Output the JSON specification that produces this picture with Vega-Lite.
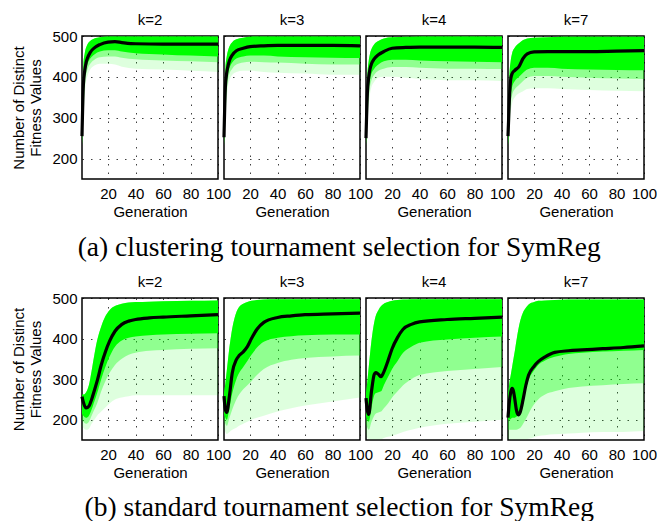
{
  "$schema": "https://vega.github.io/schema/vega-lite/v6.json",
  "padding": {"left": 11, "top": 13, "right": 0, "bottom": 0},
  "background": "white",
  "config": {
    "font": "Liberation Sans",
    "view": {"stroke": "#000", "strokeWidth": 1.5},
    "axis": {"labelFont": "Liberation Sans", "labelFontSize": 15, "labelColor": "#000", "labelOverlap": false, "labelFlush": false, "titleFont": "Liberation Sans", "titleFontSize": 15, "titleFontWeight": "normal", "titleColor": "#000", "domain": false, "ticks": false, "grid": true, "gridColor": "#000", "gridDash": [1.5, 7], "gridOpacity": 0.75, "gridWidth": 1},
    "header": {"labelFont": "Liberation Sans", "labelFontSize": 15, "labelColor": "#000"},
    "title": {"font": "Liberation Serif", "fontSize": 27.5, "fontWeight": "normal", "color": "#000"}
  },
  "datasets": {
    "a": [
      {"k": "k=2", "g": 1, "hi": 262, "d": 235, "m": 232, "s": 230, "y": 255},
      {"k": "k=2", "g": 2, "hi": 430, "d": 340, "m": 310, "s": 290, "y": 380},
      {"k": "k=2", "g": 3, "hi": 458, "d": 395, "m": 375, "s": 355, "y": 415},
      {"k": "k=2", "g": 4, "hi": 472, "d": 420, "m": 405, "s": 390, "y": 435},
      {"k": "k=2", "g": 5, "hi": 480, "d": 432, "m": 418, "s": 402, "y": 446},
      {"k": "k=2", "g": 7, "hi": 488, "d": 445, "m": 432, "s": 418, "y": 460},
      {"k": "k=2", "g": 10, "hi": 494, "d": 455, "m": 442, "s": 428, "y": 471},
      {"k": "k=2", "g": 14, "hi": 497, "d": 462, "m": 448, "s": 432, "y": 479},
      {"k": "k=2", "g": 20, "hi": 499, "d": 465, "m": 450, "s": 432, "y": 485},
      {"k": "k=2", "g": 25, "hi": 499, "d": 465, "m": 450, "s": 430, "y": 486},
      {"k": "k=2", "g": 30, "hi": 499, "d": 462, "m": 447, "s": 425, "y": 484},
      {"k": "k=2", "g": 40, "hi": 499, "d": 458, "m": 443, "s": 420, "y": 481},
      {"k": "k=2", "g": 60, "hi": 499, "d": 455, "m": 440, "s": 418, "y": 480},
      {"k": "k=2", "g": 80, "hi": 499, "d": 452, "m": 438, "s": 415, "y": 480},
      {"k": "k=2", "g": 100, "hi": 499, "d": 450, "m": 436, "s": 412, "y": 480},

      {"k": "k=3", "g": 1, "hi": 262, "d": 235, "m": 232, "s": 230, "y": 252},
      {"k": "k=3", "g": 2, "hi": 420, "d": 330, "m": 300, "s": 280, "y": 375},
      {"k": "k=3", "g": 3, "hi": 450, "d": 385, "m": 365, "s": 345, "y": 410},
      {"k": "k=3", "g": 4, "hi": 465, "d": 410, "m": 395, "s": 380, "y": 428},
      {"k": "k=3", "g": 5, "hi": 475, "d": 422, "m": 408, "s": 392, "y": 440},
      {"k": "k=3", "g": 7, "hi": 485, "d": 435, "m": 420, "s": 405, "y": 453},
      {"k": "k=3", "g": 10, "hi": 492, "d": 445, "m": 430, "s": 412, "y": 464},
      {"k": "k=3", "g": 15, "hi": 496, "d": 450, "m": 435, "s": 415, "y": 470},
      {"k": "k=3", "g": 20, "hi": 498, "d": 452, "m": 437, "s": 415, "y": 474},
      {"k": "k=3", "g": 30, "hi": 499, "d": 452, "m": 436, "s": 412, "y": 476},
      {"k": "k=3", "g": 40, "hi": 499, "d": 450, "m": 435, "s": 410, "y": 477},
      {"k": "k=3", "g": 60, "hi": 499, "d": 448, "m": 432, "s": 408, "y": 477},
      {"k": "k=3", "g": 80, "hi": 499, "d": 447, "m": 430, "s": 405, "y": 477},
      {"k": "k=3", "g": 100, "hi": 499, "d": 446, "m": 430, "s": 405, "y": 476},

      {"k": "k=4", "g": 1, "hi": 262, "d": 235, "m": 232, "s": 230, "y": 250},
      {"k": "k=4", "g": 2, "hi": 400, "d": 320, "m": 295, "s": 275, "y": 360},
      {"k": "k=4", "g": 3, "hi": 440, "d": 370, "m": 350, "s": 330, "y": 400},
      {"k": "k=4", "g": 4, "hi": 458, "d": 395, "m": 378, "s": 360, "y": 420},
      {"k": "k=4", "g": 5, "hi": 468, "d": 408, "m": 392, "s": 375, "y": 432},
      {"k": "k=4", "g": 7, "hi": 480, "d": 420, "m": 405, "s": 388, "y": 444},
      {"k": "k=4", "g": 10, "hi": 488, "d": 430, "m": 415, "s": 398, "y": 454},
      {"k": "k=4", "g": 14, "hi": 494, "d": 438, "m": 420, "s": 400, "y": 462},
      {"k": "k=4", "g": 20, "hi": 497, "d": 442, "m": 424, "s": 400, "y": 470},
      {"k": "k=4", "g": 30, "hi": 498, "d": 442, "m": 424, "s": 398, "y": 472},
      {"k": "k=4", "g": 40, "hi": 499, "d": 440, "m": 422, "s": 395, "y": 473},
      {"k": "k=4", "g": 60, "hi": 499, "d": 438, "m": 420, "s": 392, "y": 473},
      {"k": "k=4", "g": 80, "hi": 499, "d": 437, "m": 420, "s": 392, "y": 473},
      {"k": "k=4", "g": 100, "hi": 499, "d": 436, "m": 419, "s": 390, "y": 472},

      {"k": "k=7", "g": 1, "hi": 262, "d": 235, "m": 232, "s": 228, "y": 255},
      {"k": "k=7", "g": 2, "hi": 400, "d": 300, "m": 280, "s": 260, "y": 345},
      {"k": "k=7", "g": 3, "hi": 440, "d": 355, "m": 335, "s": 315, "y": 395},
      {"k": "k=7", "g": 4, "hi": 458, "d": 375, "m": 355, "s": 335, "y": 408},
      {"k": "k=7", "g": 6, "hi": 472, "d": 390, "m": 370, "s": 350, "y": 416},
      {"k": "k=7", "g": 9, "hi": 482, "d": 400, "m": 380, "s": 360, "y": 425},
      {"k": "k=7", "g": 12, "hi": 490, "d": 410, "m": 390, "s": 365, "y": 445},
      {"k": "k=7", "g": 15, "hi": 494, "d": 418, "m": 398, "s": 370, "y": 456},
      {"k": "k=7", "g": 20, "hi": 496, "d": 422, "m": 402, "s": 372, "y": 461},
      {"k": "k=7", "g": 30, "hi": 497, "d": 422, "m": 402, "s": 372, "y": 462},
      {"k": "k=7", "g": 40, "hi": 498, "d": 420, "m": 400, "s": 370, "y": 462},
      {"k": "k=7", "g": 60, "hi": 498, "d": 418, "m": 398, "s": 368, "y": 462},
      {"k": "k=7", "g": 80, "hi": 498, "d": 417, "m": 396, "s": 366, "y": 463},
      {"k": "k=7", "g": 100, "hi": 498, "d": 416, "m": 395, "s": 365, "y": 464}
    ],
    "b": [
      {"k": "k=2", "g": 1, "hi": 262, "d": 215, "m": 200, "s": 185, "y": 257},
      {"k": "k=2", "g": 2, "hi": 262, "d": 210, "m": 195, "s": 180, "y": 243},
      {"k": "k=2", "g": 4, "hi": 268, "d": 205, "m": 190, "s": 175, "y": 229},
      {"k": "k=2", "g": 6, "hi": 285, "d": 210, "m": 195, "s": 178, "y": 233},
      {"k": "k=2", "g": 8, "hi": 320, "d": 225, "m": 210, "s": 190, "y": 250},
      {"k": "k=2", "g": 10, "hi": 360, "d": 245, "m": 225, "s": 200, "y": 272},
      {"k": "k=2", "g": 12, "hi": 395, "d": 265, "m": 240, "s": 210, "y": 295},
      {"k": "k=2", "g": 15, "hi": 430, "d": 300, "m": 270, "s": 220, "y": 335},
      {"k": "k=2", "g": 18, "hi": 455, "d": 330, "m": 295, "s": 230, "y": 367},
      {"k": "k=2", "g": 21, "hi": 470, "d": 355, "m": 315, "s": 240, "y": 393},
      {"k": "k=2", "g": 25, "hi": 480, "d": 380, "m": 335, "s": 250, "y": 418},
      {"k": "k=2", "g": 30, "hi": 486, "d": 395, "m": 350, "s": 255, "y": 435},
      {"k": "k=2", "g": 35, "hi": 489, "d": 402, "m": 360, "s": 258, "y": 443},
      {"k": "k=2", "g": 40, "hi": 490, "d": 405, "m": 365, "s": 260, "y": 447},
      {"k": "k=2", "g": 50, "hi": 491, "d": 408, "m": 370, "s": 260, "y": 451},
      {"k": "k=2", "g": 60, "hi": 492, "d": 410, "m": 372, "s": 260, "y": 453},
      {"k": "k=2", "g": 80, "hi": 493, "d": 412, "m": 375, "s": 260, "y": 456},
      {"k": "k=2", "g": 100, "hi": 494, "d": 413, "m": 376, "s": 260, "y": 459},

      {"k": "k=3", "g": 1, "hi": 265, "d": 215, "m": 200, "s": 180, "y": 258},
      {"k": "k=3", "g": 2, "hi": 290, "d": 205, "m": 190, "s": 170, "y": 225},
      {"k": "k=3", "g": 3, "hi": 320, "d": 200, "m": 185, "s": 165, "y": 218},
      {"k": "k=3", "g": 5, "hi": 380, "d": 230, "m": 205, "s": 170, "y": 260},
      {"k": "k=3", "g": 7, "hi": 425, "d": 265, "m": 225, "s": 175, "y": 315},
      {"k": "k=3", "g": 10, "hi": 465, "d": 300, "m": 250, "s": 180, "y": 348},
      {"k": "k=3", "g": 12, "hi": 478, "d": 315, "m": 262, "s": 185, "y": 358},
      {"k": "k=3", "g": 15, "hi": 486, "d": 330, "m": 275, "s": 190, "y": 367},
      {"k": "k=3", "g": 18, "hi": 490, "d": 345, "m": 285, "s": 195, "y": 380},
      {"k": "k=3", "g": 21, "hi": 493, "d": 360, "m": 295, "s": 200, "y": 400},
      {"k": "k=3", "g": 25, "hi": 495, "d": 378, "m": 310, "s": 205, "y": 423},
      {"k": "k=3", "g": 30, "hi": 496, "d": 392, "m": 325, "s": 210, "y": 440},
      {"k": "k=3", "g": 40, "hi": 497, "d": 402, "m": 340, "s": 220, "y": 452},
      {"k": "k=3", "g": 50, "hi": 497, "d": 406, "m": 348, "s": 228, "y": 456},
      {"k": "k=3", "g": 60, "hi": 497, "d": 408, "m": 352, "s": 235, "y": 459},
      {"k": "k=3", "g": 80, "hi": 497, "d": 410, "m": 356, "s": 245, "y": 461},
      {"k": "k=3", "g": 100, "hi": 497, "d": 410, "m": 358, "s": 255, "y": 463},

      {"k": "k=4", "g": 1, "hi": 265, "d": 210, "m": 190, "s": 170, "y": 253},
      {"k": "k=4", "g": 2, "hi": 295, "d": 200, "m": 180, "s": 155, "y": 222},
      {"k": "k=4", "g": 3, "hi": 330, "d": 195, "m": 175, "s": 152, "y": 213},
      {"k": "k=4", "g": 5, "hi": 395, "d": 230, "m": 195, "s": 152, "y": 270},
      {"k": "k=4", "g": 7, "hi": 440, "d": 260, "m": 210, "s": 152, "y": 312},
      {"k": "k=4", "g": 8, "hi": 455, "d": 265, "m": 215, "s": 152, "y": 316},
      {"k": "k=4", "g": 10, "hi": 470, "d": 268, "m": 218, "s": 152, "y": 312},
      {"k": "k=4", "g": 12, "hi": 480, "d": 270, "m": 220, "s": 152, "y": 306},
      {"k": "k=4", "g": 14, "hi": 486, "d": 285, "m": 228, "s": 155, "y": 318},
      {"k": "k=4", "g": 17, "hi": 490, "d": 305, "m": 240, "s": 158, "y": 345},
      {"k": "k=4", "g": 20, "hi": 493, "d": 325, "m": 255, "s": 160, "y": 375},
      {"k": "k=4", "g": 24, "hi": 495, "d": 345, "m": 270, "s": 165, "y": 403},
      {"k": "k=4", "g": 28, "hi": 496, "d": 365, "m": 285, "s": 170, "y": 423},
      {"k": "k=4", "g": 34, "hi": 497, "d": 380, "m": 300, "s": 175, "y": 435},
      {"k": "k=4", "g": 40, "hi": 497, "d": 390, "m": 310, "s": 180, "y": 441},
      {"k": "k=4", "g": 60, "hi": 497, "d": 398, "m": 320, "s": 190, "y": 447},
      {"k": "k=4", "g": 80, "hi": 497, "d": 402, "m": 325, "s": 195, "y": 450},
      {"k": "k=4", "g": 100, "hi": 497, "d": 405, "m": 330, "s": 200, "y": 453},

      {"k": "k=7", "g": 1, "hi": 260, "d": 200, "m": 175, "s": 152, "y": 205},
      {"k": "k=7", "g": 2, "hi": 290, "d": 200, "m": 175, "s": 152, "y": 245},
      {"k": "k=7", "g": 3, "hi": 310, "d": 202, "m": 175, "s": 152, "y": 268},
      {"k": "k=7", "g": 4, "hi": 330, "d": 205, "m": 175, "s": 152, "y": 277},
      {"k": "k=7", "g": 5, "hi": 350, "d": 205, "m": 175, "s": 152, "y": 270},
      {"k": "k=7", "g": 6, "hi": 370, "d": 205, "m": 175, "s": 152, "y": 250},
      {"k": "k=7", "g": 7, "hi": 392, "d": 207, "m": 175, "s": 152, "y": 226},
      {"k": "k=7", "g": 8.5, "hi": 422, "d": 212, "m": 177, "s": 152, "y": 212},
      {"k": "k=7", "g": 10, "hi": 445, "d": 225, "m": 180, "s": 152, "y": 220},
      {"k": "k=7", "g": 12, "hi": 465, "d": 250, "m": 190, "s": 152, "y": 250},
      {"k": "k=7", "g": 14, "hi": 476, "d": 275, "m": 202, "s": 152, "y": 285},
      {"k": "k=7", "g": 16, "hi": 484, "d": 298, "m": 215, "s": 153, "y": 310},
      {"k": "k=7", "g": 20, "hi": 490, "d": 322, "m": 238, "s": 157, "y": 332},
      {"k": "k=7", "g": 23, "hi": 493, "d": 335, "m": 250, "s": 160, "y": 343},
      {"k": "k=7", "g": 28, "hi": 494, "d": 346, "m": 262, "s": 162, "y": 355},
      {"k": "k=7", "g": 35, "hi": 495, "d": 355, "m": 270, "s": 164, "y": 366},
      {"k": "k=7", "g": 45, "hi": 496, "d": 362, "m": 278, "s": 166, "y": 370},
      {"k": "k=7", "g": 55, "hi": 496, "d": 365, "m": 282, "s": 168, "y": 372},
      {"k": "k=7", "g": 70, "hi": 496, "d": 368, "m": 285, "s": 170, "y": 375},
      {"k": "k=7", "g": 85, "hi": 496, "d": 370, "m": 288, "s": 170, "y": 378},
      {"k": "k=7", "g": 100, "hi": 496, "d": 372, "m": 290, "s": 172, "y": 382}
    ]
  },
  "spacing": 13,
  "vconcat": [
    {
      "data": {"name": "a"},
      "title": {"text": "(a) clustering tournament selection for SymReg", "orient": "bottom", "anchor": "middle", "offset": 15, "dx": 5},
      "facet": {"column": {"field": "k", "type": "nominal", "title": null, "header": {"labelPadding": 8}}},
      "spacing": {"column": 6},
      "bounds": "flush",
      "spec": {
        "width": 136,
        "height": 143,
        "encoding": {
          "x": {"field": "g", "type": "quantitative", "scale": {"domain": [1, 100], "nice": false, "zero": false}, "axis": {"values": [20, 40, 60, 80, 100], "title": "Generation", "labelPadding": 7, "titlePadding": 3}}
        },
        "layer": [
          {"mark": {"type": "area", "color": "#00ff00", "opacity": 0.13, "interpolate": "monotone", "invalid": "filter"},
           "encoding": {"y": {"field": "s", "type": "quantitative", "scale": {"domain": [150, 500], "nice": false, "zero": false}, "axis": {"values": [200, 300, 400, 500], "title": ["Number of Distinct", "Fitness Values"], "titleLineHeight": 17, "labelPadding": 5, "titlePadding": 8}}, "y2": {"field": "hi"}}},
          {"mark": {"type": "area", "color": "#00ff00", "opacity": 0.35, "interpolate": "monotone", "invalid": "filter"},
           "encoding": {"y": {"field": "m", "type": "quantitative", "scale": {"domain": [150, 500], "nice": false, "zero": false}, "axis": {"values": [200, 300, 400, 500], "title": ["Number of Distinct", "Fitness Values"], "titleLineHeight": 17, "labelPadding": 5, "titlePadding": 8}}, "y2": {"field": "hi"}}},
          {"mark": {"type": "area", "color": "#00ff00", "opacity": 1, "interpolate": "monotone", "invalid": "filter"},
           "encoding": {"y": {"field": "d", "type": "quantitative", "scale": {"domain": [150, 500], "nice": false, "zero": false}, "axis": {"values": [200, 300, 400, 500], "title": ["Number of Distinct", "Fitness Values"], "titleLineHeight": 17, "labelPadding": 5, "titlePadding": 8}}, "y2": {"field": "hi"}}},
          {"mark": {"type": "line", "color": "#000", "strokeWidth": 3.2, "interpolate": "monotone", "invalid": "filter"},
           "encoding": {"y": {"field": "y", "type": "quantitative", "scale": {"domain": [150, 500], "nice": false, "zero": false}, "axis": {"values": [200, 300, 400, 500], "title": ["Number of Distinct", "Fitness Values"], "titleLineHeight": 17, "labelPadding": 5, "titlePadding": 8}}}}
        ]
      }
    },
    {
      "data": {"name": "b"},
      "title": {"text": "(b) standard tournament selection for SymReg", "orient": "bottom", "anchor": "middle", "offset": 14, "dx": 5},
      "facet": {"column": {"field": "k", "type": "nominal", "title": null, "header": {"labelPadding": 8}}},
      "spacing": {"column": 6},
      "bounds": "flush",
      "spec": {
        "width": 136,
        "height": 142,
        "encoding": {
          "x": {"field": "g", "type": "quantitative", "scale": {"domain": [1, 100], "nice": false, "zero": false}, "axis": {"values": [20, 40, 60, 80, 100], "title": "Generation", "labelPadding": 7, "titlePadding": 3}}
        },
        "layer": [
          {"mark": {"type": "area", "color": "#00ff00", "opacity": 0.13, "interpolate": "monotone", "invalid": "filter"},
           "encoding": {"y": {"field": "s", "type": "quantitative", "scale": {"domain": [150, 500], "nice": false, "zero": false}, "axis": {"values": [200, 300, 400, 500], "title": ["Number of Distinct", "Fitness Values"], "titleLineHeight": 17, "labelPadding": 5, "titlePadding": 8}}, "y2": {"field": "hi"}}},
          {"mark": {"type": "area", "color": "#00ff00", "opacity": 0.35, "interpolate": "monotone", "invalid": "filter"},
           "encoding": {"y": {"field": "m", "type": "quantitative", "scale": {"domain": [150, 500], "nice": false, "zero": false}, "axis": {"values": [200, 300, 400, 500], "title": ["Number of Distinct", "Fitness Values"], "titleLineHeight": 17, "labelPadding": 5, "titlePadding": 8}}, "y2": {"field": "hi"}}},
          {"mark": {"type": "area", "color": "#00ff00", "opacity": 1, "interpolate": "monotone", "invalid": "filter"},
           "encoding": {"y": {"field": "d", "type": "quantitative", "scale": {"domain": [150, 500], "nice": false, "zero": false}, "axis": {"values": [200, 300, 400, 500], "title": ["Number of Distinct", "Fitness Values"], "titleLineHeight": 17, "labelPadding": 5, "titlePadding": 8}}, "y2": {"field": "hi"}}},
          {"mark": {"type": "line", "color": "#000", "strokeWidth": 3.2, "interpolate": "monotone", "invalid": "filter"},
           "encoding": {"y": {"field": "y", "type": "quantitative", "scale": {"domain": [150, 500], "nice": false, "zero": false}, "axis": {"values": [200, 300, 400, 500], "title": ["Number of Distinct", "Fitness Values"], "titleLineHeight": 17, "labelPadding": 5, "titlePadding": 8}}}}
        ]
      }
    }
  ]
}
